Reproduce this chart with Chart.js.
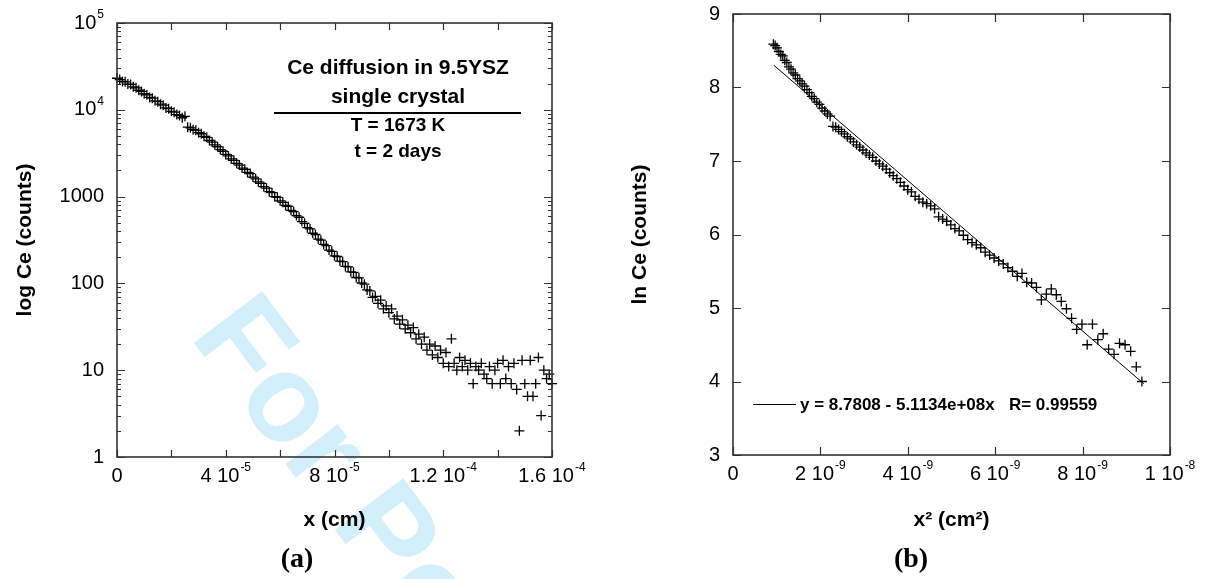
<!DOCTYPE html>
<html>
<head>
<meta charset="utf-8">
<title>Ce diffusion in 9.5YSZ</title>
<script src="https://cdn.jsdelivr.net/npm/chart.js@4.4.1/dist/chart.umd.min.js"></script>
<style>
  html, body { margin: 0; padding: 0; background: #fff; }
  #wrap { position: relative; width: 1206px; height: 579px; overflow: hidden; }
  #wrap canvas { position: absolute; top: 0; }
  #chartA { left: 0; }
  #chartB { left: 603px; }
</style>
</head>
<body>
<div id="wrap">
  <canvas id="chartA" width="603" height="579"></canvas>
  <canvas id="chartB" width="603" height="579"></canvas>
</div>
<script>
// (a) depth profile: depth in units of 10^-5 cm, counts
const DEPTH_UNIT = 1e-5;
const depthA = [
  0.0, 0.1, 0.2, 0.3, 0.4, 0.5, 0.6, 0.7, 0.8, 0.9,
  1.0, 1.1, 1.2, 1.3, 1.4, 1.5, 1.6, 1.7, 1.8, 1.9,
  2.0, 2.1, 2.2, 2.3, 2.4, 2.5, 2.6, 2.7, 2.8, 2.9,
  3.0, 3.1, 3.2, 3.3, 3.4, 3.5, 3.6, 3.7, 3.8, 3.9,
  4.0, 4.1, 4.2, 4.3, 4.4, 4.5, 4.6, 4.7, 4.8, 4.9,
  5.0, 5.1, 5.2, 5.3, 5.4, 5.5, 5.6, 5.7, 5.8, 5.9,
  6.0, 6.1, 6.2, 6.3, 6.4, 6.5, 6.6, 6.7, 6.8, 6.9,
  7.0, 7.1, 7.2, 7.3, 7.4, 7.5, 7.6, 7.7, 7.8, 7.9,
  8.0, 8.1, 8.2, 8.3, 8.4, 8.5, 8.6, 8.7, 8.8, 8.9,
  9.0, 9.1, 9.2, 9.3, 9.4, 9.5, 9.6, 9.7, 9.8, 9.9,
  10.0, 10.1, 10.2, 10.3, 10.4, 10.5, 10.6, 10.7, 10.8, 10.9,
  11.0, 11.1, 11.2, 11.3, 11.4, 11.5, 11.6, 11.7, 11.8, 11.9,
  12.0, 12.1, 12.2, 12.3, 12.4, 12.5, 12.6, 12.7, 12.8, 12.9,
  13.0, 13.1, 13.2, 13.3, 13.4, 13.5, 13.6, 13.7, 13.8, 13.9,
  14.0, 14.1, 14.2, 14.3, 14.4, 14.5, 14.6, 14.7, 14.8, 14.9,
  15.0, 15.1, 15.2, 15.3, 15.4, 15.5, 15.6, 15.7, 15.8, 15.9,
  16.0
];
const countsA = [
  23100, 22300, 21200, 21000, 19800, 19600, 18400, 17900, 16800, 16300,
  15300, 14900, 13900, 13600, 12700, 12400, 11600, 11300, 10500, 10300,
  9600, 9400, 8800, 8600, 8100, 8400, 6300, 6200, 5900, 5800,
  5450, 5300, 4950, 4820, 4430, 4250, 3950, 3750, 3480, 3330,
  3060, 2940, 2720, 2620, 2420, 2310, 2130, 2060, 1900, 1840,
  1680, 1600, 1480, 1420, 1300, 1250, 1140, 1110, 1000, 980,
  895, 860, 790, 770, 695, 670, 605, 578, 515, 492,
  438, 424, 378, 366, 324, 315, 281, 272, 242, 234,
  208, 204, 181, 178, 157, 155, 136, 134, 117, 116,
  101, 98, 84, 82, 69, 71, 59, 64, 51, 55,
  46, 51, 39, 42, 34, 38, 30, 33, 27, 31,
  23, 26, 20, 24, 17, 20, 15, 19, 14, 17,
  12, 16, 11, 23, 12, 10, 14, 11, 13, 10,
  12, 7, 11, 10, 12, 9, 8, 11, 7, 10,
  12, 7, 13, 8, 11, 7, 12, 6, 2, 13,
  7, 5, 13, 5, 7, 14, 3, 10, 8, 9,
  7
];

// (b) ln(counts) against x^2, x^2 in units of 10^-9 cm^2
const X2_UNIT = 1e-9;
const x2B = [
  0.924, 0.965, 1.007, 1.050, 1.094, 1.139, 1.185, 1.231, 1.279, 1.327,
  1.376, 1.427, 1.478, 1.530, 1.582, 1.636, 1.691, 1.746, 1.803, 1.860,
  1.918, 1.978, 2.038, 2.099, 2.160, 2.223, 2.287, 2.351, 2.417, 2.483,
  2.550, 2.618, 2.687, 2.757, 2.828, 2.900, 2.972, 3.046, 3.120, 3.196,
  3.272, 3.349, 3.427, 3.506, 3.586, 3.666, 3.748, 3.830, 3.914, 3.998,
  4.083, 4.169, 4.256, 4.344, 4.433, 4.523, 4.613, 4.705, 4.797, 4.890,
  4.984, 5.079, 5.175, 5.272, 5.370, 5.469, 5.568, 5.669, 5.770, 5.872,
  5.975, 6.079, 6.184, 6.290, 6.397, 6.504, 6.613, 6.722, 6.833, 6.944,
  7.056, 7.169, 7.283, 7.398, 7.513, 7.630, 7.748, 7.866, 7.985, 8.105,
  8.226, 8.349, 8.471, 8.595, 8.720, 8.845, 8.972, 9.099, 9.228, 9.357
];
const lnB = [
  8.59, 8.57, 8.54, 8.49, 8.45, 8.43, 8.37, 8.34, 8.28, 8.25,
  8.20, 8.17, 8.12, 8.09, 8.05, 8.02, 7.97, 7.93, 7.88, 7.85,
  7.80, 7.77, 7.72, 7.68, 7.64, 7.61, 7.47, 7.46, 7.43, 7.40,
  7.37, 7.33, 7.30, 7.26, 7.22, 7.19, 7.15, 7.11, 7.08, 7.05,
  7.00, 6.96, 6.93, 6.89, 6.84, 6.80, 6.76, 6.71, 6.66, 6.61,
  6.58, 6.52, 6.48, 6.44, 6.42, 6.39, 6.35, 6.24, 6.21, 6.18,
  6.13, 6.08, 6.05, 5.99, 5.93, 5.89, 5.86, 5.82, 5.76, 5.72,
  5.68, 5.64, 5.60, 5.55, 5.50, 5.43, 5.47, 5.35, 5.34, 5.28,
  5.11, 5.19, 5.26, 5.18, 5.09, 4.99, 4.86, 4.71, 4.78, 4.50,
  4.78, 4.57, 4.65, 4.44, 4.37, 4.52, 4.50, 4.41, 4.20, 4.00
];
// least squares line y = 8.7808 - 5.1134e+08x, end points as drawn
const fitX2B = [0.94, 9.40];
const fitLnB = [8.30, 3.97];
const fitText = 'y = 8.7808 - 5.1134e+08x   R= 0.99559';

// tick values and labels ([base, exponent])
const xTicksA = [0, 2e-5, 4e-5, 6e-5, 8e-5, 1e-4, 1.2e-4, 1.4e-4, 1.6e-4];
const xLabelsA = [['0', ''], null, ['4 10', '-5'], null, ['8 10', '-5'], null, ['1.2 10', '-4'], null, ['1.6 10', '-4']];
const yTicksA = [1, 10, 100, 1000, 1e4, 1e5];
const yLabelsA = [['1', ''], ['10', ''], ['100', ''], ['1000', ''], ['10', '4'], ['10', '5']];
const xTicksB = [0, 2e-9, 4e-9, 6e-9, 8e-9, 1e-8];
const xLabelsB = [['0', ''], ['2 10', '-9'], ['4 10', '-9'], ['6 10', '-9'], ['8 10', '-9'], ['1 10', '-8']];
const yTicksB = [3, 4, 5, 6, 7, 8, 9];
const yLabelsB = [['3', ''], ['4', ''], ['5', ''], ['6', ''], ['7', ''], ['8', ''], ['9', '']];

const SANS = '"Liberation Sans", Arial, Helvetica, sans-serif';
const SERIF = '"Liberation Serif", "Times New Roman", serif';
const TICK_FONT = '20px ' + SANS;
const SUP_FONT = '12px ' + SANS;
const INK = '#000';

function text(ctx, str, x, y, font, align) {
  ctx.font = font;
  ctx.textAlign = align || 'center';
  ctx.textBaseline = 'middle';
  ctx.fillText(str, x, y);
}

// tick label with optional superscript exponent
function supLabel(ctx, lab, x, y, align) {
  const base = lab[0], exp = lab[1];
  ctx.font = TICK_FONT;
  const wb = ctx.measureText(base).width;
  ctx.font = SUP_FONT;
  const we = exp ? ctx.measureText(exp).width + 1 : 0;
  const x0 = align === 'right' ? x - wb - we : x - (wb + we) / 2;
  text(ctx, base, x0, y, TICK_FONT, 'left');
  if (exp) text(ctx, exp, x0 + wb + 1, y - 8, SUP_FONT, 'left');
}

function framePlugin(cfg) {
  return {
    id: 'frame_' + cfg.name,
    beforeDatasetsDraw(chart) {
      if (cfg.under) cfg.under(chart.ctx, chart);
    },
    afterDatasetsDraw(chart) {
      const ctx = chart.ctx;
      const a = chart.chartArea;
      const xs = chart.scales.x, ys = chart.scales.y;
      ctx.save();
      ctx.strokeStyle = '#333';
      ctx.fillStyle = INK;

      // inward tick marks on all four sides
      ctx.lineWidth = 1.2;
      ctx.beginPath();
      cfg.xTicks.forEach(v => {
        const px = Math.round(xs.getPixelForValue(v)) + 0.5;
        ctx.moveTo(px, a.bottom); ctx.lineTo(px, a.bottom - cfg.xTickLen);
        ctx.moveTo(px, a.top); ctx.lineTo(px, a.top + cfg.xTickLen);
      });
      const yTick = (v, len) => {
        const py = Math.round(ys.getPixelForValue(v)) + 0.5;
        ctx.moveTo(a.left, py); ctx.lineTo(a.left + len, py);
        ctx.moveTo(a.right, py); ctx.lineTo(a.right - len, py);
      };
      cfg.yTicks.forEach(v => yTick(v, cfg.yTickLen));
      if (cfg.logMinor) {
        for (let d = 0; d < cfg.yTicks.length - 1; d++) {
          for (let m = 2; m <= 9; m++) yTick(cfg.yTicks[d] * m, cfg.yTickLen / 2);
        }
      }
      ctx.stroke();

      // frame
      ctx.lineWidth = 1.6;
      ctx.strokeRect(a.left, a.top, a.right - a.left, a.bottom - a.top);

      // tick labels
      cfg.xTicks.forEach((v, i) => {
        if (cfg.xLabels[i]) supLabel(ctx, cfg.xLabels[i], xs.getPixelForValue(v), a.bottom + 19, 'center');
      });
      cfg.yTicks.forEach((v, i) => {
        supLabel(ctx, cfg.yLabels[i], a.left - 13, ys.getPixelForValue(v), 'right');
      });

      // axis titles
      const titleFont = 'bold 21px ' + SANS;
      text(ctx, cfg.xTitle, (a.left + a.right) / 2, 520, titleFont);
      ctx.save();
      ctx.translate(cfg.yTitleX, (a.top + a.bottom) / 2);
      ctx.rotate(-Math.PI / 2);
      text(ctx, cfg.yTitle, 0, 0, titleFont);
      ctx.restore();

      // panel letter
      text(ctx, cfg.panel, cfg.panelX, 560, 'bold 28px ' + SERIF);

      if (cfg.over) cfg.over(ctx, chart);
      ctx.restore();
    }
  };
}

function baseOptions(padding, xMax, yType, yMin, yMax) {
  return {
    responsive: false,
    animation: false,
    devicePixelRatio: 1,
    events: [],
    layout: { padding: padding, autoPadding: false },
    plugins: { legend: { display: false }, tooltip: { enabled: false } },
    scales: {
      x: { type: 'linear', min: 0, max: xMax, display: false },
      y: { type: yType, min: yMin, max: yMax, display: false }
    }
  };
}

const crossStyle = {
  showLine: false,
  pointStyle: 'cross',
  pointRadius: 5,
  pointHoverRadius: 5,
  pointBorderWidth: 1.3,
  pointBorderColor: INK,
  pointBackgroundColor: INK,
  clip: false
};

// ---- (a) ----
new Chart(document.getElementById('chartA'), {
  type: 'scatter',
  data: {
    datasets: [Object.assign({
      label: 'Ce',
      data: depthA.map((d, i) => ({ x: d * DEPTH_UNIT, y: countsA[i] }))
    }, crossStyle)]
  },
  options: baseOptions({ left: 117, right: 51, top: 23, bottom: 122 }, 1.6e-4, 'logarithmic', 1, 1e5),
  plugins: [framePlugin({
    name: 'a',
    xTicks: xTicksA, xLabels: xLabelsA, yTicks: yTicksA, yLabels: yLabelsA,
    xTickLen: 7, yTickLen: 8, logMinor: true,
    xTitle: 'x (cm)', yTitle: 'log Ce (counts)', yTitleX: 25,
    panel: '(a)', panelX: 297,
    under(ctx) {
      // "For Peer Review" watermark
      ctx.save();
      ctx.translate(189, 336);
      ctx.rotate(53 * Math.PI / 180);
      ctx.font = 'bold 124px ' + SANS;
      ctx.fillStyle = '#d3effc';
      ctx.textAlign = 'left';
      ctx.textBaseline = 'alphabetic';
      ctx.fillText('For Peer Review', 0, 0);
      ctx.restore();
    },
    over(ctx) {
      const f1 = 'bold 21px ' + SANS, f2 = 'bold 19px ' + SANS;
      text(ctx, 'Ce diffusion in 9.5YSZ', 398, 68, f1);
      text(ctx, 'single crystal', 398, 97, f1);
      ctx.strokeStyle = INK;
      ctx.lineWidth = 2;
      ctx.beginPath();
      ctx.moveTo(274, 113); ctx.lineTo(521, 113);
      ctx.stroke();
      text(ctx, 'T = 1673 K', 398, 126, f2);
      text(ctx, 't = 2 days', 398, 152, f2);
    }
  })]
});

// ---- (b) ----
new Chart(document.getElementById('chartB'), {
  type: 'scatter',
  data: {
    datasets: [
      Object.assign({
        label: 'ln Ce',
        data: x2B.map((v, i) => ({ x: v * X2_UNIT, y: lnB[i] }))
      }, crossStyle),
      {
        label: fitText,
        data: fitX2B.map((v, i) => ({ x: v * X2_UNIT, y: fitLnB[i] })),
        showLine: true,
        pointRadius: 0,
        borderColor: INK,
        borderWidth: 1
      }
    ]
  },
  options: baseOptions({ left: 130, right: 36, top: 14, bottom: 124 }, 1e-8, 'linear', 3, 9),
  plugins: [framePlugin({
    name: 'b',
    xTicks: xTicksB, xLabels: xLabelsB, yTicks: yTicksB, yLabels: yLabelsB,
    xTickLen: 8, yTickLen: 8, logMinor: false,
    xTitle: 'x\u00B2 (cm\u00B2)', yTitle: 'ln Ce (counts)', yTitleX: 37,
    panel: '(b)', panelX: 308,
    over(ctx) {
      ctx.strokeStyle = INK;
      ctx.lineWidth = 1;
      ctx.beginPath();
      ctx.moveTo(150, 404.5); ctx.lineTo(193, 404.5);
      ctx.stroke();
      text(ctx, fitText, 197, 405, 'bold 17px ' + SANS, 'left');
    }
  })]
});
</script>
</body>
</html>
